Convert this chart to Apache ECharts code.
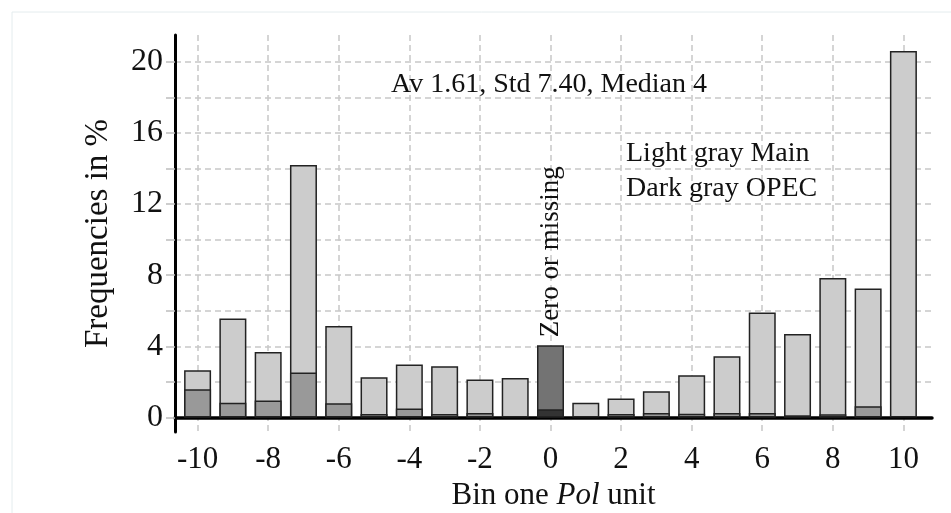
<!DOCTYPE html>
<html>
<head>
<meta charset="utf-8">
<script src="https://cdn.jsdelivr.net/npm/echarts@6/dist/echarts.min.js"></script>
<style>
  html, body { margin: 0; padding: 0; background: #fff; }
  #chart { width: 951px; height: 513px; }
</style>
</head>
<body>
<div id="chart"></div>
<script>
// bins of one Pol unit
const bins = [-10, -9, -8, -7, -6, -5, -4, -3, -2, -1, 0, 1, 2, 3, 4, 5, 6, 7, 8, 9, 10]
// total frequency in % (light gray, Main)
const mainValues = [2.66, 5.57, 3.69, 14.19, 5.15, 2.27, 2.98, 2.89, 2.14, 2.23, 4.07, 0.84, 1.07, 1.48, 2.38, 3.45, 5.9, 4.7, 7.85, 7.26, 20.6]
// OPEC part in % (dark gray)
const opecValues = [1.59, 0.84, 0.96, 2.53, 0.8, 0.2, 0.51, 0.2, 0.26, 0, 0.47, 0, 0.2, 0.26, 0.22, 0.26, 0.26, 0.13, 0.19, 0.64, 0]
const xTicks = [-10, -8, -6, -4, -2, 0, 2, 4, 6, 8, 10]
const yTicks = [0, 2, 4, 6, 8, 10, 12, 14, 16, 18, 20]
const yLabels = [0, 4, 8, 12, 16, 20]

const serif = '"Liberation Serif", "DejaVu Serif", serif'
const chart = echarts.init(document.getElementById('chart'))

// !bar 0 is "Zero or missing", drawn darker
const mainData = bins.map((b, i) => {
  const item = { value: [b, mainValues[i]] }
  if (b === 0) {
    item.itemStyle = { color: '#737373' }
    item.label = {
      show: true,
      position: 'top',
      distance: 8,
      rotate: 90,
      align: 'left',
      verticalAlign: 'middle',
      formatter: 'Zero or missing',
      fontFamily: serif,
      fontSize: 27,
      color: '#111'
    }
  }
  return item
})
const opecData = bins.map((b, i) => {
  if (!opecValues[i]) return { value: [b, null] }
  const item = { value: [b, opecValues[i]] }
  if (b === 0) item.itemStyle = { color: '#333333' }
  return item
})

chart.setOption({
  animation: false,
  backgroundColor: '#fff',
  textStyle: { fontFamily: serif },
  title: [
    {
      text: 'Av 1.61, Std 7.40, Median 4',
      left: 386,
      top: 66,
      textStyle: { fontFamily: serif, fontSize: 28, fontWeight: 'normal', color: '#111', lineHeight: 28 }
    },
    {
      text: 'Light gray Main\nDark gray OPEC',
      left: 621,
      top: 131,
      textStyle: { fontFamily: serif, fontSize: 28, fontWeight: 'normal', color: '#111', lineHeight: 35 }
    }
  ],
  graphic: [
    { type: 'line', shape: { x1: 12, y1: 12, x2: 12, y2: 513 }, style: { stroke: '#e4ecee', lineWidth: 1 } },
    { type: 'line', shape: { x1: 12, y1: 12, x2: 951, y2: 12 }, style: { stroke: '#e4ecee', lineWidth: 1 } }
  ],
  grid: { left: 175, right: 19, top: 35, bottom: 81, outerBoundsMode: 'none' },
  xAxis: {
    type: 'value',
    min: -10.64,
    max: 10.81,
    name: '{n|Bin one }{i|Pol}{n| unit}',
    nameLocation: 'middle',
    nameGap: 42,
    nameTextStyle: {
      rich: {
        n: { fontFamily: serif, fontSize: 31, color: '#111' },
        i: { fontFamily: serif, fontSize: 31, fontStyle: 'italic', color: '#111' }
      }
    },
    axisLine: { onZero: true, lineStyle: { color: '#000', width: 3.5 } },
    axisTick: { show: false, customValues: xTicks },
    axisLabel: { customValues: xTicks, margin: 12, fontFamily: serif, fontSize: 31, color: '#111' },
    splitLine: { show: true, lineStyle: { color: '#c8c8c8', type: [6, 4], width: 1.5 } }
  },
  yAxis: {
    type: 'value',
    min: -0.81,
    max: 21.5,
    name: 'Frequencies in %',
    nameLocation: 'middle',
    nameGap: 60,
    nameTextStyle: { fontFamily: serif, fontSize: 33, color: '#111' },
    axisLine: { show: true, onZero: false, lineStyle: { color: '#000', width: 3 } },
    axisTick: { show: true, customValues: yTicks, length: 9, lineStyle: { color: '#bdbdbd', width: 1.5 } },
    axisLabel: { customValues: yLabels, margin: 12, fontFamily: serif, fontSize: 32, color: '#111' },
    splitLine: { show: true, lineStyle: { color: '#c8c8c8', type: [6, 4], width: 1.5 } }
  },
  series: [
    {
      name: 'Main',
      type: 'bar',
      barWidth: 27,
      barGap: '-100%',
      itemStyle: { color: '#cccccc', borderColor: '#222', borderWidth: 1.5 },
      data: mainData
    },
    {
      name: 'OPEC',
      type: 'bar',
      barWidth: 27,
      barGap: '-100%',
      itemStyle: { color: '#999999', borderColor: '#222', borderWidth: 1.5 },
      data: opecData
    }
  ]
})
</script>
</body>
</html>
